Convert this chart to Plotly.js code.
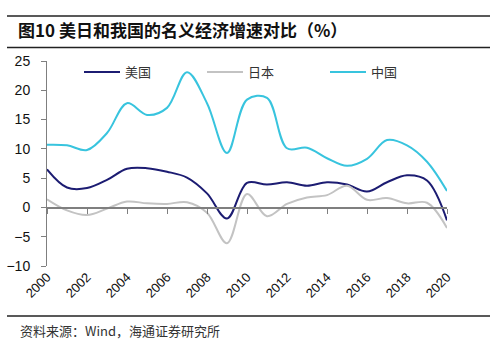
<!DOCTYPE html>
<html>
<head>
<meta charset="utf-8">
<script src="https://cdn.plot.ly/plotly-3.0.1.min.js"></script>
<style>html,body{margin:0;padding:0;background:#fff;}#chart{width:500px;height:355px;}</style>
</head>
<body>
<div id="chart"></div>
<script>
var years = [2000,2001,2002,2003,2004,2005,2006,2007,2008,2009,2010,2011,2012,2013,2014,2015,2016,2017,2018,2019,2020];
var usGrowth    = [6.5,3.4,3.3,4.7,6.6,6.7,6.1,5.1,2.4,-1.9,4.2,3.9,4.3,3.7,4.3,3.9,2.7,4.3,5.5,4.6,-2.2];
var japanGrowth = [1.4,-0.5,-1.3,-0.2,1.0,0.7,0.6,0.9,-0.9,-6.1,2.3,-1.5,0.6,1.7,2.1,3.7,1.3,1.6,0.7,0.8,-3.5];
var chinaGrowth = [10.7,10.6,9.8,12.7,17.8,15.8,17.0,23.1,17.8,9.3,18.4,18.7,10.1,10.2,8.4,7.1,8.3,11.5,10.6,7.8,2.8];
var seriesNames = ['美国','日本','中国'];
var xTicks = [2000,2002,2004,2006,2008,2010,2012,2014,2016,2018,2020];
var yTicks = [-10,-5,0,5,10,15,20,25];
var chartTitle = '图10 美日和我国的名义经济增速对比（%）';
var sourceText = '资料来源：Wind，海通证券研究所';

var cjk = '"Noto Sans CJK SC", "Liberation Sans", Arial, sans-serif';
var latin = '"Liberation Sans", Arial, "Noto Sans CJK SC", sans-serif';

function line(name, y, color) {
  return {x: years, y: y, name: name, type: 'scatter', mode: 'lines',
          line: {color: color, width: 2, shape: 'spline', smoothing: 1}, hoverinfo: 'skip'};
}
var data = [
  line(seriesNames[0], usGrowth, '#1c1c72'),
  line(seriesNames[1], japanGrowth, '#c3c3c3'),
  line(seriesNames[2], chinaGrowth, '#38c4de'),
  {x: [], y: [], xaxis: 'x2', yaxis: 'y', showlegend: false, hoverinfo: 'skip', type: 'scatter', mode: 'lines'}
];

var layout = {
  width: 500, height: 355,
  margin: {l: 47, r: 53, t: 61, b: 89},
  paper_bgcolor: '#fff', plot_bgcolor: '#fff',
  showlegend: true,
  title: {text: '<b>' + chartTitle + '</b>', x: 18/500, xanchor: 'left', xref: 'container',
          y: 1 - 31/355, yanchor: 'middle', yref: 'container',
          font: {family: cjk, size: 17, color: '#111'}},
  xaxis: {range: [2000, 2020], tickvals: xTicks, ticktext: xTicks.map(String), tickangle: -45,
          showline: false, showgrid: false, zeroline: false, ticks: '',
          tickfont: {family: latin, size: 13, color: '#111'}},
  xaxis2: {range: [2000, 2020], overlaying: 'x', anchor: 'free', position: 10/35,
           tickvals: xTicks, showticklabels: false, ticks: 'outside', ticklen: 5, tickcolor: '#7f7f7f',
           showline: true, linecolor: '#7f7f7f', linewidth: 1.5, showgrid: false, zeroline: false},
  yaxis: {range: [-10, 25], tickvals: yTicks, ticks: 'outside', ticklen: 5, tickcolor: '#7f7f7f',
          showline: true, linecolor: '#7f7f7f', linewidth: 1, showgrid: false, zeroline: false,
          ticklabelstandoff: 8, tickfont: {family: latin, size: 14, color: '#111'}},
  legend: {orientation: 'h', x: 0.08, xanchor: 'left', y: 0.946, yanchor: 'middle',
           itemwidth: 36, entrywidth: 72, font: {family: cjk, size: 13, color: '#333'}, bgcolor: 'rgba(0,0,0,0)'},
  shapes: [
    {type: 'line', xref: 'paper', yref: 'paper', x0: -0.1, x1: 1.1075, y0: 1.2195, y1: 1.2195, line: {color: '#222', width: 1.5}},
    {type: 'line', xref: 'paper', yref: 'paper', x0: -0.1, x1: 1.1075, y0: 1.0659, y1: 1.0659, line: {color: '#222', width: 1.5}},
    {type: 'line', xref: 'paper', yref: 'paper', x0: -0.1, x1: 1.1075, y0: -0.2439, y1: -0.2439, line: {color: '#222', width: 1.5}}
  ],
  annotations: [
    {text: sourceText, xref: 'paper', yref: 'paper', x: (18-47)/400, y: (266-330)/205,
     xanchor: 'left', yanchor: 'middle', showarrow: false, font: {family: cjk, size: 13, color: '#333'}}
  ]
};

Plotly.newPlot('chart', data, layout, {staticPlot: true, displayModeBar: false});
</script>
</body>
</html>
